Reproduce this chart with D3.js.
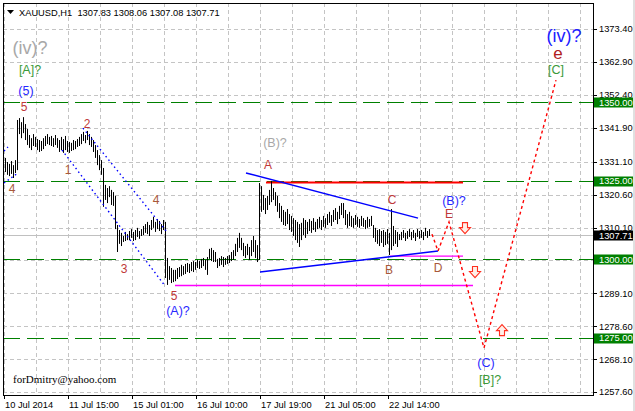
<!DOCTYPE html>
<html><head><meta charset="utf-8">
<script src="https://cdn.jsdelivr.net/npm/d3@7"></script>
<style>body{margin:0;background:#fff}svg{display:block}text{font-family:"Liberation Sans",Arial,sans-serif}</style>
</head><body><svg id="c" width="635" height="411"></svg>
<script>
// ---- data: XAUUSD H1 bars (high / low) ----
const highs=[
1332.3,1331.0,1330.4,1331.3,1330.0,1331.6,1344.4,1345.0,1343.7,1345.3,
1343.1,1341.5,1339.6,1338.6,1339.9,1339.0,1338.3,1338.0,1337.7,1338.6,
1339.3,1339.9,1339.0,1339.3,1338.6,1339.6,1338.6,1338.0,1339.0,1338.3,
1339.3,1337.7,1337.4,1337.1,1338.0,1337.7,1338.3,1339.0,1339.9,1340.6,
1339.6,1340.9,1339.9,1339.0,1338.0,1336.4,1334.8,1333.2,1331.6,1329.1,
1323.7,1322.7,1323.3,1322.1,1321.4,1320.2,1310.9,1309.3,1308.4,1307.4,
1308.7,1308.0,1309.0,1309.6,1308.7,1309.3,1310.0,1309.0,1309.6,1310.6,
1311.2,1311.9,1310.9,1312.5,1313.5,1311.9,1312.8,1312.2,1311.2,1312.5,
1311.9,1300.4,1297.8,1297.2,1296.6,1296.6,1297.2,1297.5,1298.2,1297.8,
1298.5,1298.8,1298.5,1299.1,1299.4,1299.1,1299.8,1299.4,1300.1,1300.4,
1299.8,1300.7,1303.3,1303.6,1302.9,1302.3,1300.1,1300.4,1301.0,1300.7,
1300.4,1301.0,1301.3,1302.3,1302.9,1304.9,1306.8,1308.4,1306.8,1305.2,
1304.2,1304.9,1303.9,1306.1,1307.4,1306.1,1304.5,1324.3,1323.3,1320.5,
1319.5,1320.2,1322.1,1324.9,1322.7,1321.4,1320.2,1317.9,1317.0,1315.7,
1315.1,1316.0,1314.4,1313.8,1313.1,1312.5,1311.9,1311.2,1311.6,1313.1,
1312.5,1311.9,1312.8,1312.2,1313.1,1311.9,1312.8,1313.5,1312.5,1313.8,
1313.1,1314.4,1315.1,1314.1,1315.7,1316.3,1315.1,1317.0,1317.9,1317.9,
1315.7,1314.4,1315.1,1313.8,1313.1,1314.1,1313.5,1312.8,1313.8,1313.1,
1312.5,1313.5,1312.8,1313.8,1310.9,1310.0,1309.3,1309.6,1309.0,1309.3,
1308.7,1309.6,1308.4,1316.0,1310.6,1309.3,1308.7,1308.0,1308.7,1309.3,
1308.4,1309.0,1309.6,1308.7,1309.3,1308.4,1309.6,1309.0,1309.3,1308.7,
1310.0,1309.0,1309.6];
const lows=[
1327.8,1326.9,1326.5,1327.2,1325.9,1327.5,1328.4,1339.9,1338.6,1340.2,
1338.0,1336.4,1335.5,1334.8,1336.1,1335.8,1334.8,1334.2,1334.5,1335.1,
1336.1,1336.7,1336.4,1336.1,1335.8,1336.4,1335.5,1334.2,1334.8,1333.9,
1334.8,1334.2,1333.9,1334.5,1334.8,1335.1,1335.8,1336.1,1336.7,1337.7,
1337.0,1338.0,1336.4,1335.8,1334.2,1332.3,1330.0,1328.4,1326.9,1316.7,
1318.9,1317.9,1319.8,1317.3,1317.0,1309.6,1302.3,1304.9,1304.2,1305.5,
1305.8,1306.1,1306.1,1306.8,1305.8,1306.1,1307.1,1306.5,1307.4,1307.7,
1308.4,1308.0,1307.4,1309.3,1310.0,1308.7,1309.6,1309.0,1308.0,1309.3,
1294.0,1291.8,1293.4,1292.4,1292.7,1293.0,1293.7,1294.3,1294.6,1295.0,
1295.3,1295.9,1295.6,1296.2,1295.9,1296.6,1297.2,1296.9,1297.2,1297.8,
1296.6,1295.0,1300.1,1299.4,1299.1,1299.1,1297.2,1297.8,1298.2,1297.5,
1298.2,1298.5,1298.8,1299.4,1299.8,1301.0,1302.3,1303.6,1302.9,1301.0,
1300.4,1301.3,1299.8,1301.0,1302.3,1300.4,1299.1,1299.8,1315.1,1315.7,
1314.4,1315.7,1317.3,1318.2,1318.9,1317.0,1315.1,1313.1,1311.9,1310.9,
1310.6,1311.2,1309.3,1308.7,1307.4,1306.1,1305.2,1303.9,1306.1,1307.7,
1306.8,1308.0,1309.0,1308.4,1309.3,1308.7,1309.6,1310.0,1309.3,1310.3,
1310.0,1310.9,1311.6,1310.6,1311.9,1312.5,1311.2,1312.8,1314.1,1313.1,
1310.9,1310.0,1310.6,1310.3,1310.0,1310.9,1310.3,1310.0,1310.6,1310.3,
1309.6,1310.0,1310.3,1310.6,1306.8,1305.5,1304.9,1304.2,1305.2,1303.9,
1304.5,1304.9,1301.3,1302.9,1304.2,1304.9,1303.9,1306.1,1306.1,1306.8,
1305.8,1306.5,1307.1,1306.1,1306.8,1305.8,1307.1,1306.5,1306.8,1306.1,
1307.4,1306.8,1307.4];
const lastClose=1307.71;
const headerText="XAUUSD,H1  1307.83 1308.06 1307.08 1307.71";
const yTicks=[1257.6,1268.1,1278.6,1289.1,1299.6,1310.1,1320.6,1331.1,1341.9,1352.4,1362.9,1373.4];
const xTickIdx=[0,32,64,96,128,160,192];
const xTickLabels=["10 Jul 2014","11 Jul 15:00","15 Jul 01:00","16 Jul 10:00","17 Jul 19:00","21 Jul 05:00","22 Jul 14:00"];
const levels=[1350,1325,1300,1275];
// wave channel (dotted blue) segments: [idx1, price1, idx2, price2]
const channelLines=[[28.5,1334.8,80,1291.5],[39,1341.8,81,1308.7],[-0.5,1334.5,1.5,1335.8],[-0.5,1324.3,6.5,1327.5]];
// triangle boundaries (solid blue)
const triangleLines=[[120.5,1327.5,206.5,1313.1],[127.5,1295.9,216.5,1302.6]];
const redLine=[130.5,1324.5,229,1324.5];
const magentaLines=[[192.5,1301.0,229,1301.0],[85,1291.6,234,1291.6]];
// forecast path (dotted red)
const forecastIdx=[213.5,216.5,222,239.5,275.5];
const forecastPrice=[1308.0,1302.6,1311.9,1271.7,1357.1];
// arrows: [idx, price, direction]
const arrows=[[230,1309.9,"down"],[235,1295.9,"down"],[248.5,1277.4,"up"]];
// wave labels
const waveLabels=[
 {t:"(iv)?",i:12.5,p:1367.3,c:"#a8a8a8",s:18},
 {t:"[A]?",i:12.5,p:1360.3,c:"#3a9a3a",s:12.5},
 {t:"(5)",i:10.5,p:1353.6,c:"#2828ff",s:12.5},
 {t:"5",i:9.5,p:1348.5,c:"#c03838",s:12},
 {t:"4",i:3.5,p:1322.4,c:"#a8583a",s:12},
 {t:"2",i:41,p:1343.1,c:"#c03838",s:12},
 {t:"1",i:31.5,p:1328.4,c:"#a8583a",s:12},
 {t:"3",i:59.5,p:1296.9,c:"#c03838",s:12},
 {t:"4",i:75.5,p:1318.9,c:"#a8583a",s:12},
 {t:"5",i:84.5,p:1288.3,c:"#c03838",s:12},
 {t:"(A)?",i:86.5,p:1283.5,c:"#2828ff",s:12.5},
 {t:"(B)?",i:135,p:1337.1,c:"#a8a8a8",s:12.5},
 {t:"A",i:131.5,p:1330.0,c:"#c03838",s:12},
 {t:"C",i:193.5,p:1318.9,c:"#c03838",s:12},
 {t:"B",i:192,p:1296.6,c:"#a8583a",s:12},
 {t:"D",i:216.5,p:1297.2,c:"#a8583a",s:12},
 {t:"E",i:222,p:1314.4,c:"#c03838",s:12},
 {t:"(B)?",i:224.5,p:1318.6,c:"#2828ff",s:12.5},
 {t:"(C)",i:240.5,p:1266.9,c:"#2828ff",s:12.5},
 {t:"[B]?",i:242.5,p:1261.5,c:"#3a9a3a",s:12.5},
 {t:"(iv)?",i:279.5,p:1371.2,c:"#2020ff",s:18},
 {t:"e",i:276.5,p:1365.6,c:"#b02020",s:17},
 {t:"[C]",i:275.5,p:1360.4,c:"#3a9a3a",s:12.5}
];
const signature="forDmitry@yahoo.com";

// ---- drawing ----
const W=635,H=411,L=3,R=593,T=3,B=395;
const svg=d3.select("#c");
const x=d3.scaleLinear().domain([-0.5,294.5]).range([4,594]);
const y=d3.scaleLinear().domain([1256.7,1381.7]).range([B,T]);

svg.append("rect").attr("width",W).attr("height",H).attr("fill","#fff");
svg.append("rect").attr("x",633).attr("y",0).attr("width",2).attr("height",H).attr("fill","#e0e0e0");
svg.append("defs").append("clipPath").attr("id","clip").append("rect")
  .attr("x",L).attr("y",T).attr("width",R-L).attr("height",B-T);
const g=svg.append("g").attr("clip-path","url(#clip)");

// grid
const vGrid=d3.range(-0.5,294,16);
g.selectAll(".vg").data(vGrid).join("line")
  .attr("x1",d=>Math.round(x(d))+0.5).attr("x2",d=>Math.round(x(d))+0.5)
  .attr("y1",T).attr("y2",B).attr("stroke","#c4c4c4").attr("stroke-dasharray","4,3");
g.selectAll(".hg").data(yTicks).join("line")
  .attr("x1",L).attr("x2",R)
  .attr("y1",d=>Math.round(y(d))+0.5).attr("y2",d=>Math.round(y(d))+0.5)
  .attr("stroke","#c4c4c4").attr("stroke-dasharray","4,3");
// current price line
g.append("line").attr("x1",L).attr("x2",R)
  .attr("y1",Math.round(y(lastClose))+0.5).attr("y2",Math.round(y(lastClose))+0.5)
  .attr("stroke","#c0c0c0");
// level lines
g.selectAll(".lv").data(levels).join("line")
  .attr("x1",L).attr("x2",R)
  .attr("y1",d=>Math.round(y(d))+0.5).attr("y2",d=>Math.round(y(d))+0.5)
  .attr("stroke","#008000").attr("stroke-width",1.2).attr("stroke-dasharray","17,7");

// magenta & red horizontals
g.selectAll(".mg").data(magentaLines).join("line")
  .attr("x1",d=>x(d[0])).attr("y1",d=>y(d[1])).attr("x2",d=>x(d[2])).attr("y2",d=>y(d[3]))
  .attr("stroke","#ff00ff").attr("stroke-width",1.4);
g.append("line").attr("x1",x(redLine[0])).attr("y1",y(redLine[1])).attr("x2",x(redLine[2])).attr("y2",y(redLine[3]))
  .attr("stroke","#ff0000").attr("stroke-width",2);

// bars
g.selectAll(".bar").data(highs).join("line")
  .attr("x1",(d,i)=>Math.round(x(i))+0.5).attr("x2",(d,i)=>Math.round(x(i))+0.5)
  .attr("y1",d=>y(d)).attr("y2",(d,i)=>y(lows[i]))
  .attr("stroke","#000").attr("stroke-width",1);

// channel lines
g.selectAll(".ch").data(channelLines).join("line")
  .attr("x1",d=>x(d[0])).attr("y1",d=>y(d[1])).attr("x2",d=>x(d[2])).attr("y2",d=>y(d[3]))
  .attr("stroke","#0000ff").attr("stroke-width",1.4).attr("stroke-dasharray","1.5,3");
g.selectAll(".tr").data(triangleLines).join("line")
  .attr("x1",d=>x(d[0])).attr("y1",d=>y(d[1])).attr("x2",d=>x(d[2])).attr("y2",d=>y(d[3]))
  .attr("stroke","#0000ff").attr("stroke-width",1.5);

// forecast
const fc=forecastIdx.map((d,i)=>[x(d),y(forecastPrice[i])]);
g.append("path").attr("d",d3.line()(fc)).attr("fill","none")
  .attr("stroke","#ff0000").attr("stroke-width",1.4).attr("stroke-dasharray","3,3");

// arrows
function arrowPath(cx,cy,dir){
  const s=dir==="down"?1:-1;
  return `M${cx-2.5},${cy-5.5*s} h5 v${5*s} h3 l-5.5,${6*s} l-5.5,${-6*s} h3 z`;
}
g.selectAll(".ar").data(arrows).join("path")
  .attr("d",d=>arrowPath(x(d[0]),y(d[1]),d[2]))
  .attr("fill","#fff0e8").attr("stroke","#ff3020").attr("stroke-width",1.1);

// labels
g.selectAll(".wl").data(waveLabels).join("text")
  .attr("x",d=>x(d.i)).attr("y",d=>y(d.p))
  .attr("text-anchor","middle").attr("dominant-baseline","central")
  .attr("fill",d=>d.c).style("font-size",d=>d.s+"px").text(d=>d.t);

g.append("text").attr("x",13).attr("y",y(1260.5)).attr("fill","#000")
  .style("font-family","'Liberation Serif','Times New Roman',serif").style("font-size","11px").text(signature);

// frame
svg.append("rect").attr("x",L+0.5).attr("y",T+0.5).attr("width",R-L).attr("height",B-T)
  .attr("fill","none").attr("stroke","#000");

// y axis
const ya=svg.append("g");
ya.selectAll("line").data(yTicks).join("line")
  .attr("x1",R+1).attr("x2",R+4).attr("y1",d=>Math.round(y(d))+0.5).attr("y2",d=>Math.round(y(d))+0.5)
  .attr("stroke","#000");
ya.selectAll("text").data(yTicks).join("text")
  .attr("x",599).attr("y",d=>y(d)+3.3).style("font-size","9.3px").attr("fill","#000")
  .text(d=>d.toFixed(2));
// x axis
const xa=svg.append("g");
xa.selectAll("line").data(xTickIdx).join("line")
  .attr("x1",d=>Math.round(x(d-0.5))+0.5).attr("x2",d=>Math.round(x(d-0.5))+0.5)
  .attr("y1",B).attr("y2",B+4).attr("stroke","#000");
xa.selectAll("text").data(xTickIdx).join("text")
  .attr("x",d=>x(d-0.5)+1).attr("y",B+13).style("font-size","9.3px").attr("fill","#000")
  .text((d,i)=>xTickLabels[i]);

// level boxes
const lb=svg.append("g");
const boxes=levels.map(v=>({v,bg:"#008000",t:v.toFixed(2)})).concat([{v:lastClose,bg:"#000",t:lastClose.toFixed(2)}]);
lb.selectAll("rect").data(boxes).join("rect")
  .attr("x",594).attr("y",d=>Math.round(y(d.v))-4.5).attr("width",39).attr("height",10).attr("fill",d=>d.bg);
lb.selectAll("text").data(boxes).join("text")
  .attr("x",599).attr("y",d=>y(d.v)+3.5).style("font-size","9.3px").attr("fill","#fff").text(d=>d.t);

// header
svg.append("path").attr("d","M7,10 h7 l-3.5,4 z").attr("fill","#000");
svg.append("text").attr("x",19).attr("y",15.5).style("font-size","9.3px").attr("fill","#000")
  .attr("xml:space","preserve").style("white-space","pre").text(headerText);
</script></body></html>
